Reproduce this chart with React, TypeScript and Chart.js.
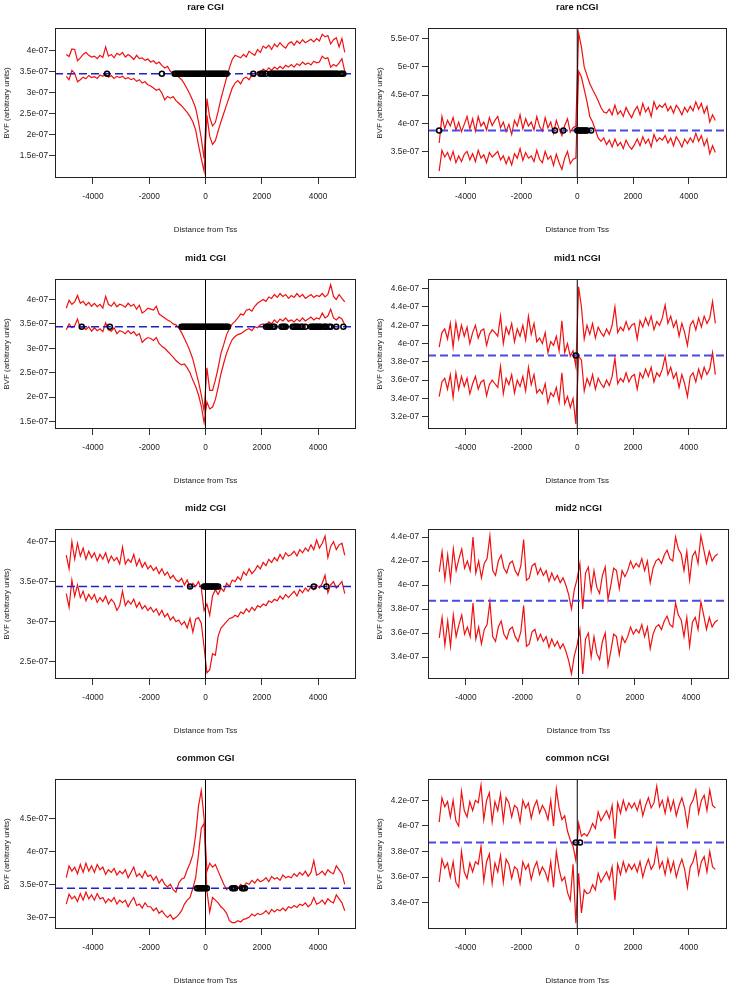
import React, { useEffect, useRef } from 'react';
import { Chart, registerables } from 'chart.js';

Chart.register(...registerables);

// Distance from TSS (bp) – shared x positions of every profile
const DIST = [
  -4950, -4850, -4750, -4650, -4550, -4450, -4350, -4250, -4150, -4050,
  -3950, -3850, -3750, -3650, -3550, -3450, -3350, -3250, -3150, -3050,
  -2950, -2850, -2750, -2650, -2550, -2450, -2350, -2250, -2150, -2050,
  -1950, -1850, -1750, -1650, -1550, -1450, -1350, -1250, -1150, -1050,
  -950, -850, -750, -650, -550, -450, -350, -250, -150, -50,
  50, 150, 250, 350, 450, 550, 650, 750, 850, 950,
  1050, 1150, 1250, 1350, 1450, 1550, 1650, 1750, 1850, 1950,
  2050, 2150, 2250, 2350, 2450, 2550, 2650, 2750, 2850, 2950,
  3050, 3150, 3250, 3350, 3450, 3550, 3650, 3750, 3850, 3950,
  4050, 4150, 4250, 4350, 4450, 4550, 4650, 4750, 4850, 4950,
];

// BVF values, in units of 1e-07
const RARE_CGI_UPPER = [
  3.9, 3.85, 4.03, 4.02, 3.75, 3.82, 3.9, 3.95, 3.88, 3.84,
  3.86, 3.8, 3.88, 3.83, 4.08, 3.86, 3.9, 3.82, 3.93, 3.89,
  3.95, 3.84, 3.9, 3.85, 3.78, 3.88, 3.8, 3.82, 3.76, 3.79,
  3.72, 3.75, 3.68, 3.72, 3.64, 3.58, 3.62, 3.5, 3.44, 3.42,
  3.36, 3.3, 3.2, 3.08, 2.95, 2.8, 2.62, 2.3, 1.9, 1.42,
  2.85, 2.4, 2.2, 2.28, 2.55, 2.85, 3.1, 3.35, 3.58, 3.78,
  3.88, 3.85, 3.82, 3.9, 3.84, 3.98, 3.92, 3.88, 4.02, 3.95,
  4.1, 4.05, 4.12, 4.02, 4.15, 4.08, 4.18, 4.1, 4.05, 4.16,
  4.2, 4.12, 4.22, 4.16, 4.25, 4.18, 4.22, 4.26, 4.2, 4.28,
  4.22, 4.38, 4.32, 4.35, 4.15, 4.25, 4.3, 4.08, 4.28, 3.95,
];
const RARE_CGI_LOWER = [
  3.38, 3.3, 3.52, 3.45, 3.25, 3.3, 3.36, 3.32, 3.4, 3.35,
  3.37, 3.33, 3.41, 3.38, 3.44, 3.36, 3.4, 3.33, 3.38, 3.35,
  3.38, 3.32, 3.35, 3.3, 3.33, 3.26, 3.3, 3.22, 3.25, 3.18,
  3.15, 3.1, 3.05, 3.08, 2.98, 2.82, 2.9, 2.86, 2.9, 2.8,
  2.74, 2.68, 2.6, 2.52, 2.42, 2.3, 2.1, 1.75, 1.42, 1.12,
  2.45, 1.95, 1.76, 1.85, 2.08, 2.3, 2.5, 2.7, 2.9, 3.1,
  3.22, 3.28, 3.2, 3.33, 3.36, 3.3, 3.42, 3.38, 3.48, 3.45,
  3.55, 3.5, 3.58, 3.52, 3.6, 3.55, 3.62, 3.56, 3.64, 3.6,
  3.66, 3.6, 3.68, 3.64, 3.72, 3.66, 3.7, 3.65, 3.74, 3.7,
  3.72, 3.86, 3.8, 3.82, 3.6, 3.66, 3.62, 3.7, 3.8, 3.5,
];
const RARE_CGI_SIG = [
  -3500, -1550,
  -1100, -1050, -1000, -950, -900, -850, -800, -750, -700, -650, -600, -550, -500, -450,
  -400, -350, -300, -250, -200, -150, -100, -50, 0, 50, 100, 150, 200, 250, 300, 350,
  400, 450, 500, 550, 600, 650, 700, 750,
  1700, 1950, 2000, 2050, 2150,
  2300, 2350, 2400, 2450, 2500, 2550, 2600, 2650, 2700, 2750, 2800, 2850, 2900, 2950,
  3000, 3050, 3100, 3150, 3200, 3250, 3300, 3350, 3400, 3450, 3500, 3550, 3600, 3650,
  3700, 3750, 3800, 3850, 3900, 3950, 4000, 4050, 4100, 4150, 4200, 4250, 4300, 4350,
  4400, 4450, 4500, 4550, 4600, 4650, 4700,
  4800, 4850, 4900,
];

const RARE_NCGI_UPPER = [
  3.65, 4.12, 3.9, 4.05, 3.95, 4.1, 3.88, 4.02, 3.85, 3.98,
  4.12, 3.9, 4.08, 3.86, 4.12, 3.95, 4.02, 3.88, 4.1, 3.96,
  4.05, 4.12, 3.92, 4.02, 3.85, 3.98, 3.8, 4.05, 3.95, 4.15,
  3.9, 4.08, 3.95, 4.02, 3.88, 4.12, 3.94, 3.86, 4.1, 3.92,
  4.02, 3.82, 4.05, 3.9, 3.78, 3.96, 4.08, 3.84, 3.92, 3.95,
  5.6, 5.35, 5.0, 4.85, 4.7, 4.6, 4.5, 4.4, 4.28, 4.2,
  4.18, 4.25, 4.15, 4.32, 4.16, 4.22, 4.12, 4.28, 4.18, 4.1,
  4.22, 4.3, 4.15, 4.35, 4.2, 4.28, 4.12, 4.38, 4.25, 4.32,
  4.28, 4.35, 4.22, 4.3, 4.18, 4.32, 4.25, 4.15, 4.28, 4.2,
  4.3, 4.22, 4.38, 4.25, 4.35, 4.18, 4.3, 4.02, 4.15, 4.05,
];
const RARE_NCGI_LOWER = [
  3.15, 3.52, 3.4, 3.48, 3.35, 3.5, 3.3, 3.42, 3.32, 3.45,
  3.5, 3.35, 3.46, 3.32, 3.52, 3.38, 3.44, 3.3, 3.48, 3.4,
  3.45, 3.5, 3.35, 3.42, 3.28, 3.4, 3.26, 3.46, 3.38, 3.55,
  3.34, 3.48, 3.38, 3.42, 3.32, 3.52, 3.36, 3.3, 3.5, 3.36,
  3.42, 3.25, 3.45, 3.3, 3.18, 3.38, 3.5, 3.28, 3.36, 3.38,
  4.92, 4.82, 4.6, 4.38, 4.12, 4.02, 3.88, 3.74, 3.68, 3.74,
  3.62, 3.7, 3.58, 3.72, 3.6, 3.66, 3.55, 3.7, 3.6, 3.54,
  3.62, 3.72, 3.6, 3.76, 3.64, 3.72, 3.58, 3.8, 3.68, 3.74,
  3.7, 3.78, 3.65, 3.74, 3.6, 3.76, 3.68, 3.58, 3.72, 3.64,
  3.74, 3.66, 3.82, 3.68, 3.78, 3.6, 3.72, 3.46, 3.6, 3.48,
];
const RARE_NCGI_SIG = [-4950, -800, -500, 0, 50, 100, 150, 200, 250, 300, 350, 500];

const MID1_CGI_UPPER = [
  3.82, 3.98, 3.9, 3.95, 4.08, 3.92, 3.96, 3.88, 3.94, 3.86,
  3.92, 3.85, 3.9, 3.82, 4.06, 3.9, 3.86, 3.94, 3.85, 3.9,
  3.88, 3.84, 3.92, 3.86, 3.9, 3.8, 3.88, 3.72, 3.76, 3.82,
  3.8, 3.78, 3.86, 3.7, 3.66, 3.62, 3.58, 3.55, 3.5, 3.48,
  3.42, 3.32, 3.2, 3.08, 2.94, 2.78, 2.55, 2.32, 2.05, 1.72,
  2.6, 2.14, 2.14, 2.35, 2.6, 2.9, 3.08, 3.28, 3.4, 3.5,
  3.55, 3.62, 3.7, 3.68, 3.78, 3.8, 3.76, 3.86, 3.92, 3.96,
  4.0, 3.96, 4.05, 4.02, 4.1, 4.04, 4.12, 4.06, 4.1, 4.02,
  4.08, 4.04, 4.12, 4.05, 4.1, 4.02, 4.06, 4.1, 4.04, 4.08,
  4.06, 4.12, 4.05, 4.1, 4.3, 4.06, 4.0, 4.1, 4.02, 3.95,
];
const MID1_CGI_LOWER = [
  3.38, 3.5, 3.42, 3.46, 3.6, 3.4, 3.45, 3.38, 3.44, 3.35,
  3.42, 3.36, 3.4, 3.34, 3.52, 3.38, 3.35, 3.42, 3.3, 3.36,
  3.34, 3.3, 3.36, 3.3, 3.34, 3.26, 3.3, 3.12, 3.18, 3.22,
  3.2, 3.16, 3.22, 3.1, 3.04, 3.0, 2.94, 2.88, 2.82, 2.75,
  2.7, 2.66, 2.68, 2.6, 2.5, 2.35, 2.22, 2.05, 1.82, 1.48,
  1.9, 1.76, 1.8, 1.95, 2.2, 2.48, 2.7, 2.9, 3.05, 3.18,
  3.24, 3.28, 3.3, 3.34, 3.38, 3.4, 3.36, 3.44, 3.42, 3.48,
  3.5, 3.46, 3.54, 3.5, 3.58, 3.52, 3.6, 3.56, 3.62, 3.55,
  3.58, 3.54, 3.6, 3.55, 3.62, 3.56, 3.6, 3.64, 3.58, 3.62,
  3.6, 3.72, 3.62, 3.66, 3.8, 3.62, 3.58, 3.64, 3.6, 3.48,
];
const MID1_CGI_SIG = [
  -4400, -3400,
  -850, -800, -750, -700, -650, -600, -550, -500, -450, -400, -350, -300, -250, -200,
  -150, -100, -50, 0, 50, 100, 150, 200, 250, 300, 350, 400, 450, 500, 550, 600, 650,
  700, 750, 800,
  2150, 2200, 2250, 2300, 2400, 2450,
  2700, 2750, 2800, 2850,
  3100, 3150, 3200, 3250, 3300, 3400, 3450, 3550,
  3750, 3800, 3850, 3900, 3950, 4000, 4050, 4100, 4200, 4250, 4300, 4400, 4450,
  4650, 4900,
];

const MID1_NCGI_UPPER = [
  3.96, 4.12, 4.16, 4.05, 4.22, 3.96, 4.23, 4.05, 4.2, 4.08,
  4.18, 4.0, 4.12, 4.2, 4.06, 4.14, 4.16, 3.98, 4.1, 4.15,
  4.12, 4.08, 4.3, 4.0, 4.18, 4.1, 4.22, 4.02, 4.16, 4.08,
  4.2, 4.04, 4.3, 4.1, 4.22, 4.02, 4.06, 4.0, 4.12, 3.9,
  4.02, 3.98, 4.08, 3.92, 4.25, 3.9, 4.0, 3.86, 3.92, 3.75,
  4.62, 4.4, 4.05, 4.2, 4.1, 4.22, 4.06, 4.18, 4.12, 4.08,
  4.16, 4.1, 4.2, 4.4, 4.12, 4.18, 4.14, 4.24, 4.15, 4.2,
  4.22, 4.05, 4.25, 4.18, 4.28, 4.2, 4.3, 4.15, 4.24, 4.2,
  4.28, 4.42, 4.22, 4.3, 4.18, 4.25, 4.08, 4.22, 4.12, 3.98,
  4.2, 4.25, 4.15, 4.28, 4.18, 4.3, 4.22, 4.28, 4.46, 4.22,
];
const MID1_NCGI_LOWER = [
  3.42, 3.58, 3.62, 3.5, 3.66, 3.41, 3.68, 3.5, 3.64, 3.53,
  3.62, 3.45, 3.56, 3.64, 3.5, 3.58, 3.6, 3.43, 3.55, 3.6,
  3.56, 3.52, 3.75, 3.45, 3.62, 3.55, 3.66, 3.46, 3.6, 3.53,
  3.64, 3.48, 3.74, 3.55, 3.66, 3.46, 3.5, 3.45, 3.56, 3.35,
  3.46, 3.42, 3.52, 3.36, 3.68, 3.34, 3.42, 3.3, 3.4, 3.12,
  3.86, 3.82, 3.48, 3.62, 3.54, 3.66, 3.5, 3.62, 3.56, 3.52,
  3.6, 3.54, 3.64, 3.84, 3.56, 3.62, 3.58, 3.68, 3.58, 3.64,
  3.66, 3.5, 3.68, 3.62, 3.72, 3.64, 3.74, 3.58, 3.68, 3.64,
  3.72, 3.86, 3.66, 3.74, 3.62, 3.68, 3.52, 3.66, 3.56, 3.42,
  3.64, 3.68, 3.58, 3.72, 3.62, 3.74, 3.66, 3.72, 3.9, 3.66,
];
const MID1_NCGI_SIG = [-50];

const MID2_CGI_UPPER = [
  3.83, 3.66, 4.0, 3.78, 3.98, 3.82, 3.92, 3.78, 3.88, 3.8,
  3.86, 3.76, 3.84, 3.78, 3.86, 3.74, 3.82, 3.76, 3.8, 3.72,
  3.93, 3.72, 3.78, 3.74, 3.84, 3.7, 3.78, 3.68, 3.74, 3.66,
  3.7, 3.64, 3.68, 3.6, 3.66, 3.58, 3.62, 3.54, 3.58, 3.52,
  3.5, 3.54, 3.46, 3.52, 3.42, 3.48, 3.44, 3.5, 3.42, 3.14,
  3.22, 3.08, 3.32, 3.4, 3.34, 3.42, 3.38, 3.48, 3.44, 3.52,
  3.5, 3.56, 3.52, 3.62, 3.58, 3.66, 3.6, 3.64, 3.7, 3.66,
  3.74, 3.7, 3.78, 3.74, 3.8, 3.76, 3.84, 3.78, 3.86, 3.82,
  3.84, 3.88, 3.82, 3.9, 3.86, 3.92, 3.88, 3.96, 3.9, 4.02,
  3.92, 3.98, 4.07, 3.8, 3.94, 4.0, 3.9, 3.96, 3.98, 3.83,
];
const MID2_CGI_LOWER = [
  3.35, 3.18, 3.52, 3.32, 3.46, 3.3, 3.38, 3.26, 3.34, 3.28,
  3.34, 3.24, 3.3, 3.25, 3.32, 3.22, 3.28, 3.24, 3.14, 3.2,
  3.38, 3.2, 3.26, 3.22, 3.28, 3.18, 3.24, 3.16, 3.2, 3.14,
  3.18, 3.12, 3.16, 3.08, 3.14, 3.06, 3.1, 3.02, 3.06, 3.0,
  3.02, 2.96, 3.0, 2.92, 3.04, 2.87, 3.03, 3.05, 2.98, 2.68,
  2.36, 2.4, 2.6, 2.58, 2.82, 2.92, 2.96, 3.0, 3.04, 3.05,
  3.08, 3.06, 3.12, 3.1, 3.16, 3.12, 3.18, 3.14, 3.2, 3.18,
  3.22, 3.2, 3.26, 3.24, 3.28, 3.26, 3.32, 3.28, 3.34, 3.3,
  3.34, 3.38, 3.32, 3.4, 3.36, 3.42, 3.38, 3.44, 3.4, 3.46,
  3.42, 3.48, 3.58, 3.36, 3.46, 3.5, 3.42, 3.46, 3.5, 3.35,
];
const MID2_CGI_SIG = [-550, -50, 0, 50, 100, 150, 200, 250, 300, 350, 400, 450, 3850, 4300];

const MID2_NCGI_UPPER = [
  4.11, 4.28, 4.05, 4.25, 4.04, 4.3, 4.12, 4.22, 4.3, 4.14,
  4.2, 4.12, 4.4, 4.1, 4.2, 4.06, 4.18, 4.22, 4.41, 4.12,
  4.08, 4.2, 4.25, 4.14, 4.1, 4.18, 4.2, 4.12, 4.08, 4.16,
  4.38, 4.04, 4.06, 4.16, 4.18, 4.09, 4.14, 4.08, 4.12, 4.03,
  4.1, 4.04, 4.08, 4.02, 4.06, 4.0, 3.92, 3.8, 3.96, 4.05,
  4.18, 3.8, 4.1, 4.15, 3.95, 4.12, 3.98, 3.93, 4.08, 4.15,
  3.88, 4.0, 4.14, 4.12, 3.97, 4.12, 4.07, 4.12, 4.2, 4.14,
  4.18, 4.15, 4.22, 4.12, 4.2, 4.02, 4.14, 4.2, 4.22, 4.18,
  4.25, 4.29, 4.22, 4.2, 4.4, 4.3, 4.26, 4.12, 4.28, 4.04,
  4.24, 4.28, 4.18, 4.41, 4.3, 4.18, 4.28, 4.2, 4.24, 4.26,
];
const MID2_NCGI_LOWER = [
  3.56, 3.73, 3.5, 3.7, 3.49, 3.75, 3.57, 3.67, 3.75, 3.59,
  3.65, 3.57, 3.85, 3.55, 3.65, 3.51, 3.63, 3.67, 3.86, 3.57,
  3.53, 3.65, 3.7, 3.59, 3.55, 3.63, 3.65, 3.57, 3.53, 3.61,
  3.83, 3.49, 3.51, 3.61, 3.63, 3.54, 3.59, 3.53, 3.57, 3.48,
  3.55, 3.49, 3.53, 3.47, 3.51, 3.45, 3.37, 3.26, 3.41, 3.5,
  3.63, 3.26, 3.55, 3.6, 3.4, 3.57, 3.43, 3.38, 3.53, 3.6,
  3.33, 3.45, 3.59, 3.57, 3.42, 3.57, 3.52, 3.57, 3.65, 3.59,
  3.63, 3.6, 3.67, 3.57, 3.65, 3.47, 3.59, 3.65, 3.67, 3.63,
  3.7, 3.74, 3.67, 3.65, 3.85, 3.75, 3.71, 3.57, 3.73, 3.49,
  3.69, 3.73, 3.63, 3.86, 3.75, 3.63, 3.73, 3.65, 3.69, 3.71,
];
const MID2_NCGI_SIG: number[] = [];

const COMMON_CGI_UPPER = [
  3.6, 3.78, 3.7, 3.76, 3.66, 3.8, 3.68, 3.82, 3.7, 3.78,
  3.68, 3.8, 3.72, 3.76, 3.65, 3.72, 3.68, 3.74, 3.64, 3.7,
  3.66, 3.72, 3.6, 3.68, 3.76, 3.62, 3.66, 3.6, 3.7, 3.62,
  3.64, 3.56, 3.62, 3.52, 3.58, 3.5, 3.46, 3.5, 3.42, 3.38,
  3.52, 3.58, 3.6, 3.72, 3.82, 3.95, 4.25, 4.68, 4.92, 4.5,
  3.7, 3.82, 3.76, 3.8, 3.7, 3.6, 3.5, 3.42, 3.46, 3.44,
  3.48, 3.44, 3.5, 3.46, 3.52, 3.5, 3.56, 3.52, 3.58, 3.54,
  3.56, 3.6, 3.54, 3.62, 3.58, 3.6, 3.56, 3.64, 3.6, 3.62,
  3.6, 3.66, 3.62, 3.68, 3.64, 3.7, 3.62, 3.68, 3.86, 3.64,
  3.66, 3.7, 3.64, 3.72, 3.68, 3.66, 3.78, 3.72, 3.66, 3.5,
];
const COMMON_CGI_LOWER = [
  3.2, 3.35, 3.28, 3.32, 3.24, 3.36, 3.26, 3.38, 3.28, 3.34,
  3.26, 3.36, 3.28, 3.3, 3.22, 3.28, 3.24, 3.3, 3.2, 3.26,
  3.22, 3.26, 3.16, 3.24, 3.3, 3.18, 3.2, 3.14, 3.22, 3.16,
  3.16, 3.1, 3.14, 3.06, 3.1, 3.04, 3.0, 3.04, 2.97, 3.0,
  3.04, 3.1, 3.2, 3.26, 3.3, 3.44, 3.6, 3.95, 4.35, 4.42,
  3.4, 3.08, 3.3, 3.26, 3.22, 3.16, 3.12, 3.06, 2.95, 2.92,
  2.92, 2.95, 2.93, 2.97, 2.98, 3.0, 3.05, 3.02, 3.06, 3.04,
  3.06, 3.1, 3.05, 3.12, 3.08, 3.12, 3.1, 3.14, 3.1, 3.16,
  3.14, 3.18, 3.15, 3.2, 3.18, 3.22, 3.16, 3.2, 3.3, 3.2,
  3.22, 3.26, 3.2, 3.28, 3.24, 3.22, 3.34, 3.28, 3.22, 3.1,
];
const COMMON_CGI_SIG = [-300, -250, -200, -150, -100, -50, 0, 50, 950, 1000, 1050, 1300, 1350, 1400];

const COMMON_NCGI_UPPER = [
  4.03, 4.22, 4.15, 4.19, 4.07, 4.2, 4.04, 4.0, 4.27, 4.12,
  4.07, 4.19, 4.12, 4.2, 4.18, 4.32, 4.05, 4.2, 4.26, 4.03,
  4.19, 4.12, 4.25, 4.04, 4.22, 4.18, 4.07, 4.16, 4.14, 4.03,
  4.2, 4.14, 4.18, 4.06, 4.15, 4.2, 4.1, 4.16, 4.12, 4.05,
  4.2, 4.0, 4.29, 4.14, 4.05, 4.08, 3.96, 3.89, 3.84, 3.73,
  4.02, 3.92, 3.94, 3.92, 3.96, 4.02, 3.98, 4.11, 4.04, 4.08,
  4.12, 4.06, 4.16, 3.9, 4.18, 4.1, 4.2, 4.12, 4.18, 4.14,
  4.18, 4.12, 4.2, 4.08, 4.16, 4.22, 4.14, 4.18, 4.31, 4.15,
  4.2, 4.1, 4.22, 4.12, 4.2, 4.08, 4.16, 4.22, 4.14, 4.0,
  4.16, 4.2, 4.28, 4.1, 4.2, 4.24, 4.12, 4.28, 4.16, 4.14,
];
const COMMON_NCGI_LOWER = [
  3.56, 3.74, 3.67, 3.71, 3.6, 3.72, 3.56, 3.52, 3.8, 3.64,
  3.59, 3.71, 3.64, 3.72, 3.7, 3.84, 3.57, 3.72, 3.78, 3.55,
  3.71, 3.64, 3.77, 3.56, 3.74, 3.7, 3.59, 3.68, 3.66, 3.55,
  3.72, 3.66, 3.7, 3.58, 3.67, 3.72, 3.62, 3.68, 3.64, 3.57,
  3.72, 3.52, 3.8, 3.66, 3.57, 3.6, 3.48, 3.42, 3.7, 3.24,
  3.63, 3.32, 3.5, 3.47, 3.48, 3.54, 3.5, 3.63, 3.56, 3.6,
  3.64, 3.58, 3.68, 3.42, 3.7, 3.62, 3.72, 3.64, 3.7, 3.66,
  3.7, 3.64, 3.72, 3.6, 3.68, 3.74, 3.66, 3.7, 3.83, 3.67,
  3.72, 3.62, 3.74, 3.64, 3.72, 3.6, 3.68, 3.74, 3.66, 3.52,
  3.68, 3.72, 3.8, 3.62, 3.72, 3.76, 3.64, 3.8, 3.68, 3.66,
];
const COMMON_NCGI_SIG = [-50, 100];

// Genome-wide average BVF (dashed reference lines), units of 1e-07
const CGI_BASELINE = 3.44;
const NCGI_BASELINE = 3.87;

// Axis tick values
const X_TICKS = [-4000, -2000, 0, 2000, 4000];
const Y_TICKS_RARE_CGI = [1.5, 2, 2.5, 3, 3.5, 4];
const Y_TICKS_RARE_NCGI = [3.5, 4, 4.5, 5, 5.5];
const Y_TICKS_MID1_CGI = [1.5, 2, 2.5, 3, 3.5, 4];
const Y_TICKS_MID1_NCGI = [3.2, 3.4, 3.6, 3.8, 4, 4.2, 4.4, 4.6];
const Y_TICKS_MID2_CGI = [2.5, 3, 3.5, 4];
const Y_TICKS_MID2_NCGI = [3.4, 3.6, 3.8, 4, 4.2, 4.4];
const Y_TICKS_COMMON_CGI = [3, 3.5, 4, 4.5];
const Y_TICKS_COMMON_NCGI = [3.4, 3.6, 3.8, 4, 4.2];

const X_MIN = -5350;
const X_MAX = 5350;

const PANELS = [
  { title: 'rare CGI', upper: RARE_CGI_UPPER, lower: RARE_CGI_LOWER, sig: RARE_CGI_SIG, base: CGI_BASELINE, yMin: 0.96, yMax: 4.53, yTicks: Y_TICKS_RARE_CGI, col: 0, row: 0, cgi: true },
  { title: 'rare nCGI', upper: RARE_NCGI_UPPER, lower: RARE_NCGI_LOWER, sig: RARE_NCGI_SIG, base: NCGI_BASELINE, yMin: 3.028, yMax: 5.69, yTicks: Y_TICKS_RARE_NCGI, col: 1, row: 0, cgi: false },
  { title: 'mid1 CGI', upper: MID1_CGI_UPPER, lower: MID1_CGI_LOWER, sig: MID1_CGI_SIG, base: CGI_BASELINE, yMin: 1.35, yMax: 4.417, yTicks: Y_TICKS_MID1_CGI, col: 0, row: 1, cgi: true },
  { title: 'mid1 nCGI', upper: MID1_NCGI_UPPER, lower: MID1_NCGI_LOWER, sig: MID1_NCGI_SIG, base: NCGI_BASELINE, yMin: 3.065, yMax: 4.706, yTicks: Y_TICKS_MID1_NCGI, col: 1, row: 1, cgi: false },
  { title: 'mid2 CGI', upper: MID2_CGI_UPPER, lower: MID2_CGI_LOWER, sig: MID2_CGI_SIG, base: CGI_BASELINE, yMin: 2.283, yMax: 4.158, yTicks: Y_TICKS_MID2_CGI, col: 0, row: 2, cgi: true },
  { title: 'mid2 nCGI', upper: MID2_NCGI_UPPER, lower: MID2_NCGI_LOWER, sig: MID2_NCGI_SIG, base: NCGI_BASELINE, yMin: 3.217, yMax: 4.467, yTicks: Y_TICKS_MID2_NCGI, col: 1, row: 2, cgi: false },
  { title: 'common CGI', upper: COMMON_CGI_UPPER, lower: COMMON_CGI_LOWER, sig: COMMON_CGI_SIG, base: CGI_BASELINE, yMin: 2.823, yMax: 5.096, yTicks: Y_TICKS_COMMON_CGI, col: 0, row: 3, cgi: true },
  { title: 'common nCGI', upper: COMMON_NCGI_UPPER, lower: COMMON_NCGI_LOWER, sig: COMMON_NCGI_SIG, base: NCGI_BASELINE, yMin: 3.194, yMax: 4.367, yTicks: Y_TICKS_COMMON_NCGI, col: 1, row: 3, cgi: false },
];

// Layout (page pixels)
const FONT = "'Liberation Sans', Arial, Helvetica, sans-serif";
const CANVAS_W = 366;
const CANVAS_H = 246;
const TOP_SPACE = 34;
const PLOT_H = 150;
const PLOT_TOP = [28, 279, 529, 779];
const COL_LEFT = [0, 366];
const Y_AXIS_W = [55, 62];
const RIGHT_PAD = [10, 3];
const YTITLE_CX = [6.7, 13.3];
const YTICK_PAD = [1, 3];

const boxPlugin = {
  id: 'plotBox',
  afterDraw(chart: any) {
    const { ctx, chartArea: a } = chart;
    ctx.save();
    ctx.strokeStyle = '#222';
    ctx.lineWidth = 1;
    ctx.strokeRect(Math.round(a.left) + 0.5, Math.round(a.top) + 0.5, Math.round(a.right - a.left) - 1, Math.round(a.bottom - a.top) - 1);
    ctx.restore();
  },
};

function fmtY(v: number) {
  return `${parseFloat(Number(v).toFixed(3))}e-07`;
}

function Panel({ def }: { def: any }) {
  const ref = useRef<HTMLCanvasElement | null>(null);
  useEffect(() => {
    const canvas = ref.current;
    if (!canvas) return;
    const col = def.col;
    const tickFont = { family: FONT, size: 8.3, lineHeight: 1.2 };
    const labelFont = { family: FONT, size: 8, lineHeight: 1.2 };
    const blue = def.cgi ? '#2020cc' : '#4a4ae2';
    const blueW = def.cgi ? 1.4 : 2;
    const red = '#f01010';
    const chart = new Chart(canvas, {
      type: 'line',
      data: {
        datasets: [
          {
            label: 'significant',
            data: def.sig.map((x: number) => ({ x, y: def.base })),
            showLine: false,
            pointRadius: 2.5,
            pointBorderWidth: 1.5,
            pointBorderColor: '#000',
            pointBackgroundColor: 'rgba(0,0,0,0)',
            borderColor: '#000',
            backgroundColor: 'rgba(0,0,0,0)',
          },
          {
            label: 'baseline',
            data: [{ x: X_MIN, y: def.base }, { x: X_MAX, y: def.base }],
            borderColor: blue,
            borderWidth: blueW,
            borderDash: [8, 4],
            pointRadius: 0,
          },
          {
            label: 'TSS',
            data: [{ x: 0, y: def.yMin }, { x: 0, y: def.yMax }],
            borderColor: '#000',
            borderWidth: 1,
            pointRadius: 0,
          },
          {
            label: 'upper',
            data: DIST.map((x, i) => ({ x, y: def.upper[i] })),
            borderColor: red,
            borderWidth: 1.2,
            pointRadius: 0,
          },
          {
            label: 'lower',
            data: DIST.map((x, i) => ({ x, y: def.lower[i] })),
            borderColor: red,
            borderWidth: 1.2,
            pointRadius: 0,
          },
        ],
      },
      options: {
        animation: false,
        responsive: false,
        maintainAspectRatio: false,
        devicePixelRatio: 1,
        events: [],
        elements: { line: { tension: 0 } },
        layout: { padding: { left: 0, right: RIGHT_PAD[col], top: 0, bottom: 0 } },
        plugins: {
          legend: { display: false },
          tooltip: { enabled: false },
          title: {
            display: true,
            text: def.title,
            fullSize: false,
            color: '#111',
            font: { family: FONT, size: 9.3, weight: 'bold', lineHeight: 1.2 },
            padding: { top: 7.64, bottom: 15.2 },
          },
        },
        scales: {
          x: {
            type: 'linear',
            min: X_MIN,
            max: X_MAX,
            afterFit: (s: any) => { s.height = CANVAS_H - TOP_SPACE - PLOT_H; },
            afterBuildTicks: (s: any) => { s.ticks = X_TICKS.map((v) => ({ value: v })); },
            grid: { display: true, drawOnChartArea: false, drawTicks: true, tickLength: 6, color: '#333', lineWidth: 1 },
            border: { display: false },
            ticks: { autoSkip: false, maxRotation: 0, padding: 7.4, color: '#222', font: tickFont, callback: (v: any) => String(v) },
            title: { display: true, text: 'Distance from Tss', color: '#222', font: labelFont, padding: { top: 0, bottom: 5.2 } },
          },
          y: {
            type: 'linear',
            min: def.yMin,
            max: def.yMax,
            afterFit: (s: any) => { s.width = Y_AXIS_W[col]; },
            afterBuildTicks: (s: any) => { s.ticks = def.yTicks.map((v: number) => ({ value: v })); },
            grid: { display: true, drawOnChartArea: false, drawTicks: true, tickLength: 6, color: '#333', lineWidth: 1 },
            border: { display: false },
            ticks: { autoSkip: false, padding: YTICK_PAD[col], color: '#222', font: tickFont, callback: (v: any) => fmtY(v) },
            title: { display: true, text: 'BVF (arbitrary units)', color: '#222', font: labelFont, padding: { top: YTITLE_CX[col] - 4.8, bottom: 0 } },
          },
        },
      },
      plugins: [boxPlugin],
    } as any);
    return () => chart.destroy();
  }, [def]);

  return (
    <canvas
      ref={ref}
      width={CANVAS_W}
      height={CANVAS_H}
      style={{
        position: 'absolute',
        left: COL_LEFT[def.col],
        top: PLOT_TOP[def.row] - TOP_SPACE,
        width: CANVAS_W,
        height: CANVAS_H,
      }}
    />
  );
}

export default function App() {
  return (
    <div style={{ position: 'absolute', left: 0, top: 0, width: 732, height: 988, overflow: 'hidden', background: '#fff' }}>
      {PANELS.map((d) => (
        <Panel key={d.title} def={d} />
      ))}
    </div>
  );
}
